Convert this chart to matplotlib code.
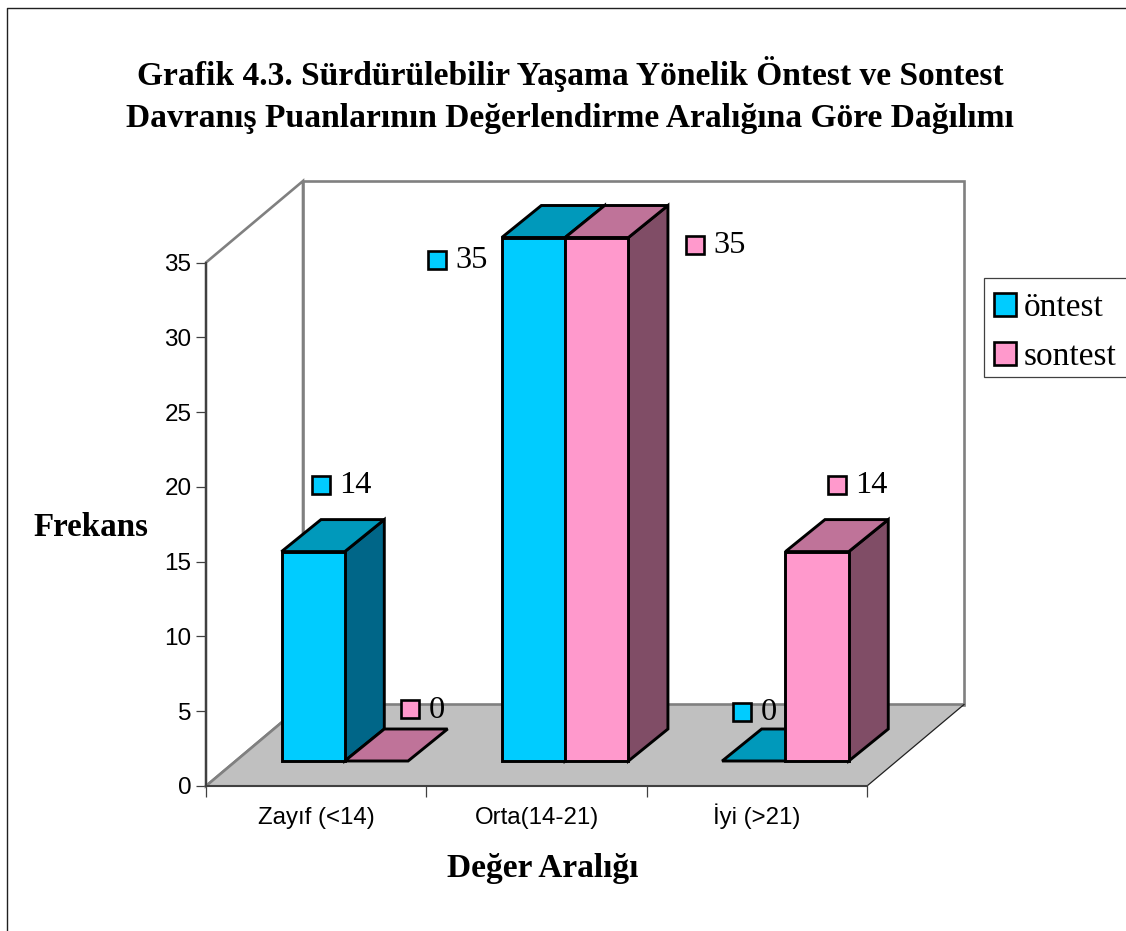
import matplotlib
matplotlib.use("Agg")
import matplotlib.pyplot as plt
from matplotlib.patches import Polygon, Rectangle
from matplotlib.lines import Line2D

TITLE = "Grafik 4.3. Sürdürülebilir Yaşama Yönelik Öntest ve Sontest\nDavranış Puanlarının Değerlendirme Aralığına Göre Dağılımı"
categories = ["Zayıf (<14)", "Orta(14-21)", "İyi (>21)"]
series_names = ["öntest", "sontest"]
ontest = [14, 35, 0]
sontest = [0, 35, 14]
yticks = [0, 5, 10, 15, 20, 25, 30, 35]
xlabel = "Değer Aralığı"
ylabel = "Frekans"

W, H = 1126, 931
fig = plt.figure(figsize=(W / 100, H / 100), dpi=100, facecolor="white")
L, B, AW, AH = 206, 786, 661, 523.5
ax = fig.add_axes([L / W, (H - B) / H, AW / W, AH / H])
ax.set_xlim(0, 3)
ax.set_ylim(0, 35)
ax.patch.set_alpha(0)
for s in ax.spines.values():
    s.set_visible(False)

SX = 3 / AW
SY = 35 / AH
def px(dx, dy):
    """pixel offset (right, up) to data units"""
    return dx * SX, dy * SY

# style
SERIF = "Liberation Serif"
SANS = "Liberation Sans"
GREY = "#808080"
DARK = "#404040"
FLOOR = "#C0C0C0"
colors = {0: ("#00CCFF", "#0099BB", "#006688"), 1: ("#FF99CC", "#BF7399", "#804D66")}
wall_dx, wall_dy = px(97, 81.5)
bar_dx, bar_dy = px(39.5, 32)
base_x, base_y = px(75.5, 25)
bar_w = px(63.3, 0)[0]
EDGE = 2.1

def poly(pts, fc, ec, lw, z):
    ax.add_patch(Polygon(pts, closed=True, facecolor=fc, edgecolor=ec, linewidth=lw,
                         joinstyle="miter", clip_on=False, zorder=z))

# walls and floor
ymax = yticks[-1]
poly([(0, 0), (0, ymax), (wall_dx, ymax + wall_dy), (wall_dx, wall_dy)], "white", GREY, 1.9, 1)
poly([(wall_dx, wall_dy), (wall_dx, ymax + wall_dy), (3 + wall_dx, ymax + wall_dy), (3 + wall_dx, wall_dy)],
     "white", GREY, 1.9, 1)
poly([(0, 0), (3, 0), (3 + wall_dx, wall_dy), (wall_dx, wall_dy)], FLOOR, "none", 0, 2)
ax.plot([0, wall_dx, 3 + wall_dx], [0, wall_dy, wall_dy], color=GREY, lw=1.9, clip_on=False, zorder=2)
ax.plot([3, 3 + wall_dx], [0, wall_dy], color="#202020", lw=0.9, clip_on=False, zorder=2)
ax.plot([0, 0], [0, ymax], color=DARK, lw=1.5, clip_on=False, zorder=3)
ax.plot([0, 3], [0, 0], color=DARK, lw=1.5, clip_on=False, zorder=3)

# bars
values = [ontest, sontest]
z = 5
for i in range(len(categories)):
    for s, vals in enumerate(values):
        v = vals[i]
        x0 = i + base_x + s * bar_w
        x1 = x0 + bar_w
        y0 = base_y
        y1 = base_y + v
        front, top, side = colors[s]
        if v > 0:
            poly([(x1, y0), (x1, y1), (x1 + bar_dx, y1 + bar_dy), (x1 + bar_dx, y0 + bar_dy)], side, "black", EDGE, z)
        poly([(x0, y1), (x1, y1), (x1 + bar_dx, y1 + bar_dy), (x0 + bar_dx, y1 + bar_dy)], top, "black", EDGE, z)
        if v > 0:
            poly([(x0, y0), (x1, y0), (x1, y1), (x0, y1)], front, "black", EDGE, z)
        z += 1

# data labels: (right, up) pixel offset from bar's top-centre
label_offsets = [
    [(7.5, 67), (-96.5, -22), (-11.5, 49)],
    [(34, 52), (98, -7), (20, 67)],
]
for s, vals in enumerate(values):
    for i, v in enumerate(vals):
        ox, oy = px(*label_offsets[s][i])
        cx = i + base_x + (s + 0.5) * bar_w + ox
        cy = base_y + v + oy
        ax.plot([cx], [cy], marker="s", ms=13.4, mfc=colors[s][0], mec="black", mew=1.9,
                clip_on=False, zorder=30)
        ax.text(cx + px(18.5, 0)[0], cy - px(0, 1)[1], str(v), family=SERIF, fontsize=23.3,
                ha="left", va="center", color="black", zorder=30, clip_on=False)

# ticks
ax.set_yticks(yticks)
ax.set_xticks(range(len(categories) + 1))
ax.set_xticklabels([])
ax.set_xticks([i + 0.5 for i in range(len(categories))], minor=True)
ax.set_xticklabels(categories, minor=True, family=SANS, fontsize=17.3, color="black", va="baseline")
ax.tick_params(axis="x", which="minor", length=0, pad=27.7)
ax.tick_params(axis="x", which="major", length=8, width=0.9, color=DARK)
ax.tick_params(axis="y", length=7.5, width=0.9, color=DARK, pad=3)
for t in ax.get_yticklabels():
    t.set_family(SANS)
    t.set_fontsize(17.5)

# axis titles
ax.set_xlabel(xlabel, family=SERIF, fontweight="bold", fontsize=24)
ax.xaxis.set_label_coords((543 - L) / AW, (B - 868) / AH, transform=ax.transAxes)
ax.xaxis.label.set_va("center")
fig.text(91 / W, 1 - 528 / H, ylabel, family=SERIF, fontweight="bold", fontsize=23.8, ha="center", va="center")
fig.text(570 / W, 1 - 95 / H, TITLE, family=SERIF, fontweight="bold", fontsize=24.1, ha="center", va="center",
         linespacing=1.5)

# legend frame runs past the right edge of the picture
fig.add_artist(Rectangle((984 / W, 1 - 377 / H), 160 / W, 99 / H, transform=fig.transFigure,
                         facecolor="white", edgecolor="#404040", linewidth=0.9, zorder=3))
handles = [Rectangle((0, 0), 1, 1, facecolor=colors[s][0], edgecolor="black", linewidth=1.9) for s in range(2)]
leg = fig.legend(handles, series_names, loc="upper left", bbox_to_anchor=(993.5 / W, 1 - 292.5 / H),
                 bbox_transform=fig.transFigure, prop={"family": SERIF, "size": 24},
                 frameon=False, borderaxespad=0, borderpad=0, handlelength=0.66, handleheight=0.66,
                 handletextpad=0.255, labelspacing=0.555)
leg.set_zorder(4)

# outer frame
fig.add_artist(Line2D([7 / W, 7 / W, 1], [0, 1 - 8 / H, 1 - 8 / H], transform=fig.transFigure, color="#202020", lw=1.0))

fig.savefig("out.png", dpi=100, facecolor="white")
